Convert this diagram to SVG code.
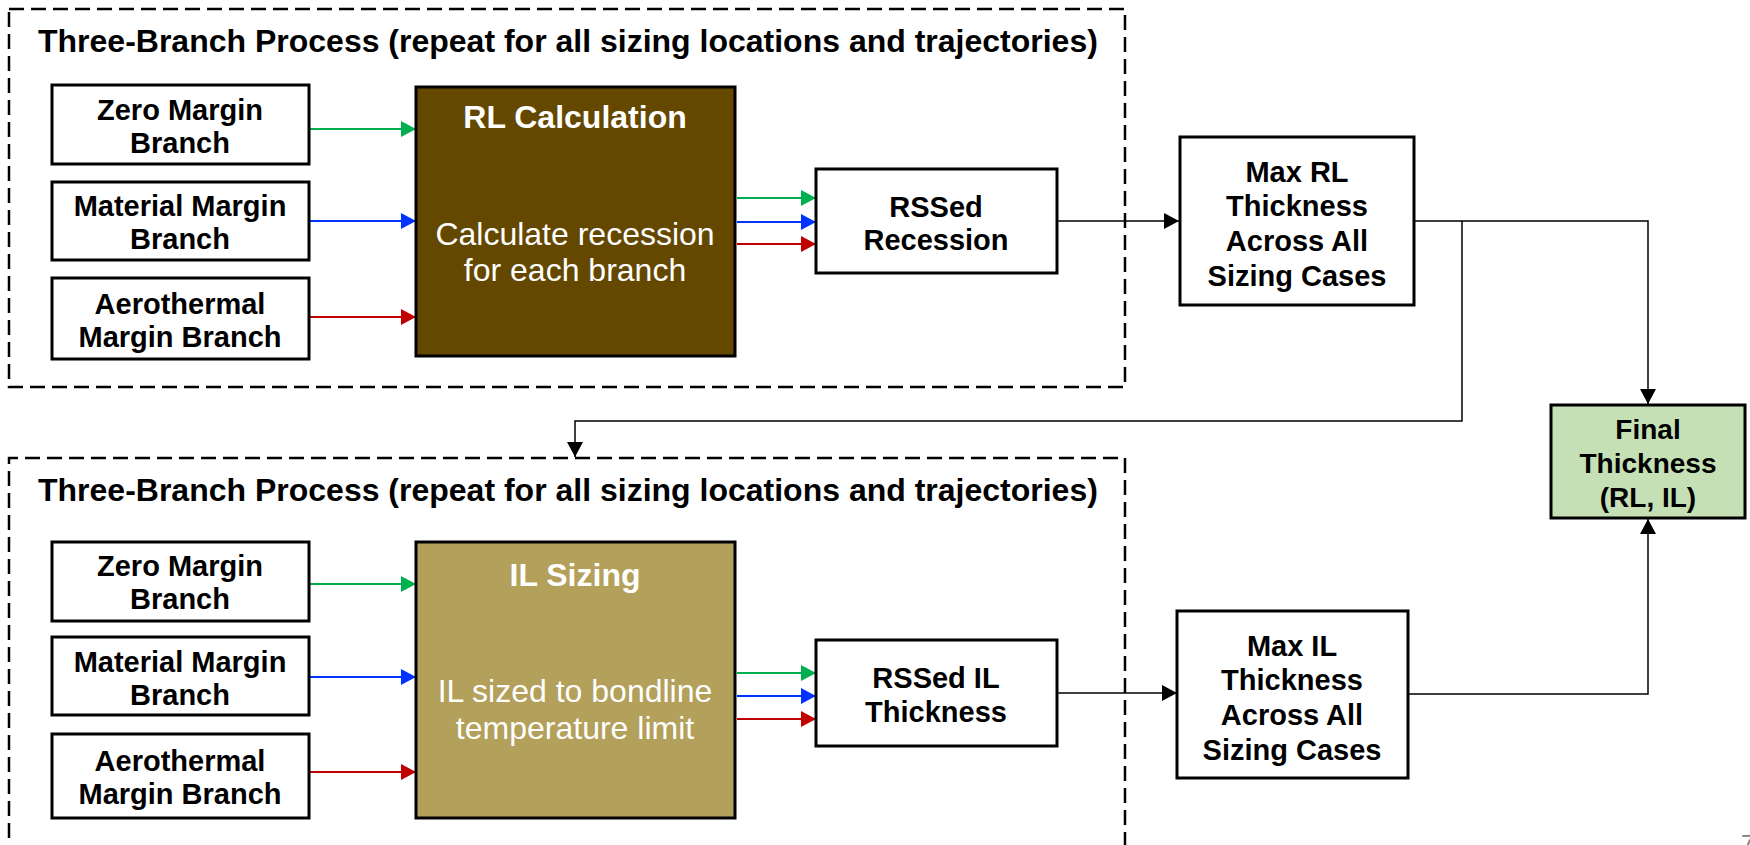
<svg xmlns="http://www.w3.org/2000/svg" width="1750" height="845" viewBox="0 0 1750 845">
<defs>
<style>
.frame{fill:none;stroke:#000;stroke-width:2.5;stroke-dasharray:15 7}
.box{fill:#fff;stroke:#000;stroke-width:3}
.t{font-family:"Liberation Sans",Arial,sans-serif;font-weight:bold;font-size:29px;fill:#000;text-anchor:middle}
.f{font-family:"Liberation Sans",Arial,sans-serif;font-weight:bold;font-size:28px;fill:#000;text-anchor:middle}
.title{font-family:"Liberation Sans",Arial,sans-serif;font-weight:bold;font-size:32px;fill:#000}
.w{font-family:"Liberation Sans",Arial,sans-serif;font-size:32px;fill:#fff;text-anchor:middle}
.wb{font-family:"Liberation Sans",Arial,sans-serif;font-weight:bold;font-size:32px;fill:#fff;text-anchor:middle}
.c{fill:none;stroke-width:1.8}
.k{stroke:#000;fill:none;stroke-width:1.5}
</style>
<marker id="ag" markerWidth="15" markerHeight="16" refX="15" refY="8" orient="auto" markerUnits="userSpaceOnUse"><path d="M0,0 L15,8 L0,16 Z" fill="#00b050"/></marker>
<marker id="ab" markerWidth="15" markerHeight="16" refX="15" refY="8" orient="auto" markerUnits="userSpaceOnUse"><path d="M0,0 L15,8 L0,16 Z" fill="#0033ff"/></marker>
<marker id="ar" markerWidth="15" markerHeight="16" refX="15" refY="8" orient="auto" markerUnits="userSpaceOnUse"><path d="M0,0 L15,8 L0,16 Z" fill="#c00000"/></marker>
<marker id="ak" markerWidth="15" markerHeight="16" refX="15" refY="8" orient="auto" markerUnits="userSpaceOnUse"><path d="M0,0 L15,8 L0,16 Z" fill="#000"/></marker>
</defs>
<rect width="1750" height="845" fill="#fff"/>

<g id="frame-top">
<rect class="frame" x="9" y="9" width="1116" height="378"/>
<text class="title" x="38" y="52">Three-Branch Process (repeat for all sizing locations and trajectories)</text>
</g>
<g id="frame-bottom">
<path class="frame" d="M9,860 L9,458 L1125,458 L1125,860"/>
<text class="title" x="38" y="501">Three-Branch Process (repeat for all sizing locations and trajectories)</text>
</g>

<g id="connectors">
<line class="c" stroke="#00b050" x1="309" y1="129" x2="416" y2="129" marker-end="url(#ag)"/>
<line class="c" stroke="#0033ff" x1="309" y1="221" x2="416" y2="221" marker-end="url(#ab)"/>
<line class="c" stroke="#c00000" x1="309" y1="317" x2="416" y2="317" marker-end="url(#ar)"/>
<line class="c" stroke="#00b050" x1="737" y1="198" x2="816" y2="198" marker-end="url(#ag)"/>
<line class="c" stroke="#0033ff" x1="737" y1="222" x2="816" y2="222" marker-end="url(#ab)"/>
<line class="c" stroke="#c00000" x1="737" y1="244" x2="816" y2="244" marker-end="url(#ar)"/>
<line class="k" x1="1057" y1="221" x2="1179" y2="221" marker-end="url(#ak)"/>
<path class="k" d="M1414,221 L1648,221 L1648,404" marker-end="url(#ak)"/>
<path class="k" d="M1462,221 L1462,421 L575,421 L575,457" marker-end="url(#ak)"/>

<line class="c" stroke="#00b050" x1="309" y1="584" x2="416" y2="584" marker-end="url(#ag)"/>
<line class="c" stroke="#0033ff" x1="309" y1="677" x2="416" y2="677" marker-end="url(#ab)"/>
<line class="c" stroke="#c00000" x1="309" y1="772" x2="416" y2="772" marker-end="url(#ar)"/>
<line class="c" stroke="#00b050" x1="737" y1="673" x2="816" y2="673" marker-end="url(#ag)"/>
<line class="c" stroke="#0033ff" x1="737" y1="696" x2="816" y2="696" marker-end="url(#ab)"/>
<line class="c" stroke="#c00000" x1="737" y1="719" x2="816" y2="719" marker-end="url(#ar)"/>
<line class="k" x1="1057" y1="693" x2="1177" y2="693" marker-end="url(#ak)"/>
<path class="k" d="M1408,694 L1648,694 L1648,519" marker-end="url(#ak)"/>
</g>

<g id="zero-top"><rect class="box" x="52" y="85" width="257" height="79"/>
<text class="t" x="180" y="120">Zero Margin</text><text class="t" x="180" y="153">Branch</text></g>
<g id="material-top"><rect class="box" x="52" y="182" width="257" height="78"/>
<text class="t" x="180" y="216">Material Margin</text><text class="t" x="180" y="249">Branch</text></g>
<g id="aero-top"><rect class="box" x="52" y="278" width="257" height="81"/>
<text class="t" x="180" y="314">Aerothermal</text><text class="t" x="180" y="347">Margin Branch</text></g>

<g id="rl-calc"><rect x="416" y="87" width="319" height="269" fill="#644800" stroke="#000" stroke-width="3"/>
<text class="wb" x="575" y="128">RL Calculation</text>
<text class="w" x="575" y="245">Calculate recession</text>
<text class="w" x="575" y="281">for each branch</text></g>

<g id="rssed-rec"><rect class="box" x="816" y="169" width="241" height="104"/>
<text class="t" x="936" y="217">RSSed</text><text class="t" x="936" y="250">Recession</text></g>

<g id="max-rl"><rect class="box" x="1180" y="137" width="234" height="168"/>
<text class="t" x="1297" y="182">Max RL</text><text class="t" x="1297" y="216">Thickness</text>
<text class="t" x="1297" y="251">Across All</text><text class="t" x="1297" y="286">Sizing Cases</text></g>

<g id="final"><rect x="1551" y="405" width="194" height="113" fill="#c5e0b4" stroke="#000" stroke-width="3"/>
<text class="f" x="1648" y="439">Final</text><text class="f" x="1648" y="473">Thickness</text><text class="f" x="1648" y="507">(RL, IL)</text></g>

<g id="zero-bot"><rect class="box" x="52" y="542" width="257" height="79"/>
<text class="t" x="180" y="576">Zero Margin</text><text class="t" x="180" y="609">Branch</text></g>
<g id="material-bot"><rect class="box" x="52" y="637" width="257" height="78"/>
<text class="t" x="180" y="672">Material Margin</text><text class="t" x="180" y="705">Branch</text></g>
<g id="aero-bot"><rect class="box" x="52" y="734" width="257" height="84"/>
<text class="t" x="180" y="771">Aerothermal</text><text class="t" x="180" y="804">Margin Branch</text></g>

<g id="il-sizing"><rect x="416" y="542" width="319" height="276" fill="#b3a05a" stroke="#000" stroke-width="3"/>
<text class="wb" x="575" y="586">IL Sizing</text>
<text class="w" x="575" y="702">IL sized to bondline</text>
<text class="w" x="575" y="739">temperature limit</text></g>

<g id="rssed-il"><rect class="box" x="816" y="640" width="241" height="106"/>
<text class="t" x="936" y="688">RSSed IL</text><text class="t" x="936" y="722">Thickness</text></g>

<g id="max-il"><rect class="box" x="1177" y="611" width="231" height="167"/>
<text class="t" x="1292" y="656">Max IL</text><text class="t" x="1292" y="690">Thickness</text>
<text class="t" x="1292" y="725">Across All</text><text class="t" x="1292" y="760">Sizing Cases</text></g>

<text x="1741" y="852" font-family="Liberation Sans,Arial,sans-serif" font-size="24" fill="#7f7f7f">7</text>
</svg>
